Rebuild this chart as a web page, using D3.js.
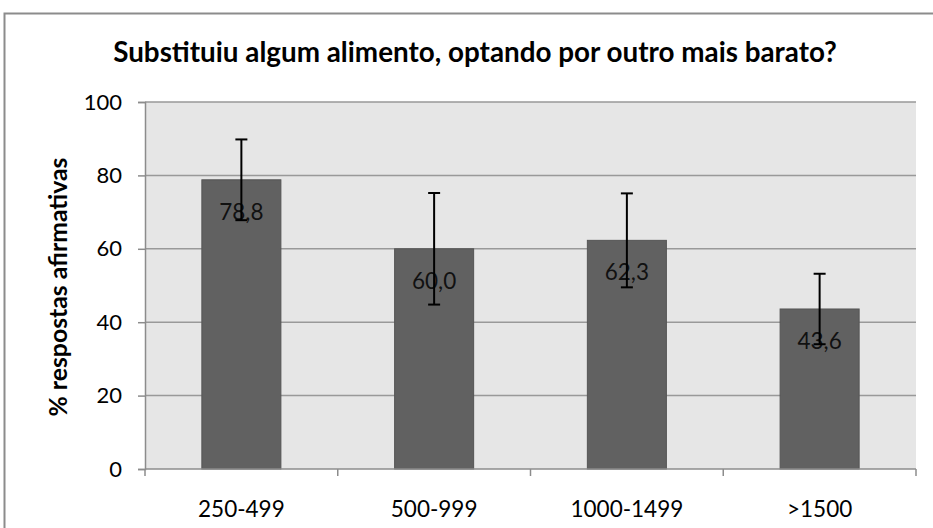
<!DOCTYPE html>
<html><head><meta charset="utf-8">
<script src="https://cdn.jsdelivr.net/npm/d3@7"></script>
<style>body{margin:0;background:#fff}svg{display:block}</style>
</head><body>
<svg id="chart" width="933" height="528"></svg>
<script>
const categories = ["250-499", "500-999", "1000-1499", ">1500"];
const values = [78.8, 60.0, 62.3, 43.6];
const errors = [11.0, 15.2, 12.8, 9.6];
const yTicks = [0, 20, 40, 60, 80, 100];
const valueLabels = ["78,8", "60,0", "62,3", "43,6"];
const title = "Substituiu algum alimento, optando por outro mais barato?";
const yTitle = "% respostas afirmativas";

const svg = d3.select("#chart");
const font = "Lato, 'Open Sans', sans-serif";
const m = {left: 145, right: 916, top: 102, bottom: 469};

// outer frame
svg.append("rect").attr("x", 4.5).attr("y", 13.5).attr("width", 940).attr("height", 530)
  .attr("fill", "#fff").attr("stroke", "#8c8c8c").attr("stroke-width", 2);

const x = d3.scaleBand().domain(categories).range([m.left, m.right]).paddingInner(0.59).paddingOuter(0.295);
const y = d3.scaleLinear().domain([0, 100]).range([m.bottom, m.top]);

svg.append("rect").attr("x", m.left).attr("y", m.top).attr("width", m.right - m.left)
  .attr("height", m.bottom - m.top).attr("fill", "#e6e6e6");

// gridlines
svg.append("g").selectAll("line").data(yTicks.filter(d => d > 0)).join("line")
  .attr("x1", m.left).attr("x2", m.right).attr("y1", d => y(d)).attr("y2", d => y(d))
  .attr("stroke", "#999").attr("stroke-width", 1.5);

// y axis
const yAxis = svg.append("g").attr("transform", `translate(${m.left},0)`)
  .call(d3.axisLeft(y).tickValues(yTicks).tickSize(7).tickPadding(16));
yAxis.select(".domain").attr("stroke", "#8c8c8c").attr("stroke-width", 1.5);
yAxis.selectAll(".tick line").attr("stroke", "#8c8c8c").attr("stroke-width", 1.5);
yAxis.selectAll(".tick text").attr("font-family", font).attr("font-size", 22).attr("fill", "#000");

// bars
svg.append("g").selectAll("rect").data(values).join("rect")
  .attr("x", (d, i) => x(categories[i])).attr("width", x.bandwidth())
  .attr("y", d => y(d)).attr("height", d => y(0) - y(d))
  .attr("fill", "#616161").attr("stroke", "#555").attr("stroke-width", 1);

// x axis
const band = (m.right - m.left) / categories.length;
const xAxis = svg.append("g");
xAxis.append("line").attr("x1", m.left).attr("x2", m.right).attr("y1", m.bottom).attr("y2", m.bottom)
  .attr("stroke", "#8c8c8c").attr("stroke-width", 1.5);
xAxis.selectAll("line.tk").data(d3.range(categories.length + 1)).join("line").attr("class", "tk")
  .attr("x1", i => m.left + i * band).attr("x2", i => m.left + i * band)
  .attr("y1", m.bottom).attr("y2", m.bottom + 7).attr("stroke", "#8c8c8c").attr("stroke-width", 1.5);
xAxis.selectAll("text").data(categories).join("text")
  .attr("x", d => x(d) + x.bandwidth() / 2).attr("y", 517).attr("text-anchor", "middle")
  .attr("font-family", font).attr("font-size", 22.5).attr("fill", "#000").text(d => d);

// value labels
svg.append("g").selectAll("text").data(values).join("text")
  .attr("x", (d, i) => x(categories[i]) + x.bandwidth() / 2).attr("y", d => y(d) + 40)
  .attr("text-anchor", "middle").attr("font-family", font).attr("font-size", 22.5).attr("fill", "#111")
  .text((d, i) => valueLabels[i]);

// error bars
const eg = svg.append("g").attr("stroke", "#000").attr("stroke-width", 2);
values.forEach((v, i) => {
  const cx = x(categories[i]) + x.bandwidth() / 2;
  eg.append("line").attr("x1", cx).attr("x2", cx).attr("y1", y(v + errors[i])).attr("y2", y(v - errors[i]));
  [v + errors[i], v - errors[i]].forEach(e => {
    eg.append("line").attr("x1", cx - 6).attr("x2", cx + 6).attr("y1", y(e)).attr("y2", y(e));
  });
});

// title
const t = svg.append("text").attr("x", 475).attr("y", 62).attr("text-anchor", "middle")
  .attr("font-family", font).attr("font-weight", "bold").attr("font-size", 24).attr("fill", "#000").text(title);
const tw = t.node().getComputedTextLength();
t.attr("font-size", 24 * 724 / tw);

// y title
const yt = svg.append("text").attr("transform", "translate(67,287) rotate(-90)").attr("text-anchor", "middle")
  .attr("font-family", font).attr("font-weight", "bold").attr("font-size", 20).attr("fill", "#000").text(yTitle);
const yw = yt.node().getComputedTextLength();
yt.attr("font-size", 20 * 259 / yw);
</script>
</body></html>
